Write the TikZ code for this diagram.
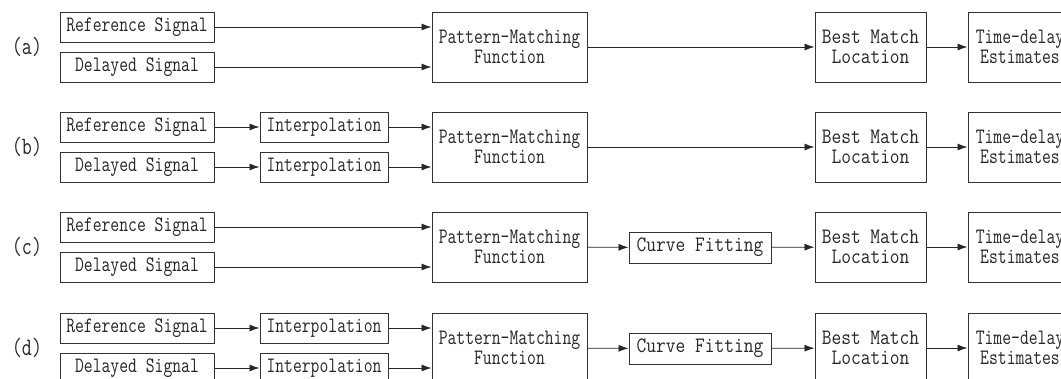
\documentclass[tikz,border=0pt]{standalone}
\usepackage{fontspec}
\newfontfamily\boxfont[FakeStretch=0.78]{Latin Modern Mono}
\newfontfamily\wideboxfont[FakeStretch=0.86]{Latin Modern Mono}
\usetikzlibrary{positioning, arrows.meta}

\begin{document}
\begin{tikzpicture}[x=1pt, y=-1pt,
    blk/.style={draw=black!80, line width=1pt, inner sep=0pt, align=center,
      text=black!85, font={\boxfont\fontsize{22}{20}\selectfont}},
    sigbox/.style={blk, minimum width=154pt, minimum height=30pt},
    interpbox/.style={blk, minimum width=128pt, minimum height=30pt},
    fitbox/.style={blk, minimum width=142pt, minimum height=31pt,
      font={\wideboxfont\fontsize{22}{20}\selectfont}},
    pmbox/.style={blk, minimum width=155pt, minimum height=70pt},
    bmbox/.style={blk, minimum width=111pt, minimum height=70pt,
      font={\wideboxfont\fontsize{22}{20}\selectfont}},
    tdbox/.style={blk, minimum width=104pt, minimum height=70pt},
    rowlabel/.style={text=black!85, font={\boxfont\fontsize{25}{25}\selectfont}},
    arr/.style={-{Latex[length=10pt, width=7pt]}, line width=0.9pt, draw=black!85}]
    \useasboundingbox (0,0) rectangle (1061,378);
    \clip (0,0) rectangle (1061,378);

    % Blocks that every row has
    \foreach \r/\y in {a/0, b/100, c/200, d/301} {
      \node[rowlabel] (lab\r) at (27,47+\y) {(\r)};
      \node[sigbox] (ref\r) at (137,27+\y) {Reference Signal};
      \node[sigbox] (del\r) at (137,67+\y) {Delayed Signal};
      \node[pmbox] (pm\r) at (509.5,47+\y) {Pattern-Matching\\Function};
      \node[bmbox] (bm\r) at (870.5,47+\y) {Best Match\\Location};
      \node[tdbox] (td\r) at (1020,47+\y) {Time-delay\\Estimates};
      \draw[arr] (bm\r) -- (td\r);
    }

    % Signals straight into the matching
    \foreach \r in {a, c} {
      \draw[arr] (ref\r) -- (ref\r -| pm\r.west);
      \draw[arr] (del\r) -- (del\r -| pm\r.west);
    }

    % Interpolation first
    \foreach \r/\y in {b/100, d/301} {
      \node[interpbox] (ipr\r) at (324,27+\y) {Interpolation};
      \node[interpbox] (ipd\r) at (324,67+\y) {Interpolation};
      \draw[arr] (ref\r) -- (ipr\r);
      \draw[arr] (del\r) -- (ipd\r);
      \draw[arr] (ipr\r) -- (ipr\r -| pm\r.west);
      \draw[arr] (ipd\r) -- (ipd\r -| pm\r.west);
    }

    % No curve fitting
    \foreach \r in {a, b} {
      \draw[arr] (pm\r) -- (bm\r);
    }

    % With curve fitting
    \foreach \r/\y in {c/200, d/301} {
      \node[fitbox] (cf\r) at (700,47.5+\y) {Curve Fitting};
      \draw[arr] (pm\r) -- (cf\r);
      \draw[arr] (cf\r) -- (bm\r);
    }
  \end{tikzpicture}
\end{document}
